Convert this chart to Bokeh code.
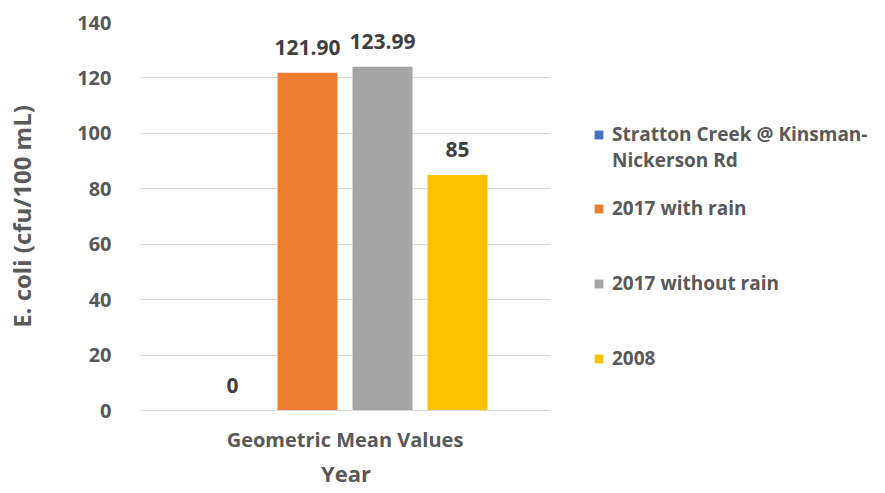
from bokeh.plotting import figure
from bokeh.models import ColumnDataSource, Legend, LegendItem, FixedTicker, Range1d, Title
from bokeh.transform import dodge
from bokeh.core.properties import value
from bokeh.embed import file_html
from bokeh.resources import INLINE

categories = ["Geometric Mean Values"]
category_pos = [0.5]
series_names = ["Stratton Creek @ Kinsman-", "2017 with rain", "2017 without rain", "2008"]
series_name_cont = "Nickerson Rd"
series_values = [0, 121.90, 123.99, 85]
value_labels = ["0", "121.90", "123.99", "85"]
series_colors = ["#4472C4", "#ED7D31", "#A5A5A5", "#FFC000"]
y_ticks = [0, 20, 40, 60, 80, 100, 120, 140]
x_title = "Year"
y_title = "E. coli (cfu/100 mL)"

FONT = "Open Sans"
GREY = "#595959"

# category band [0, 1] occupies 411 px; the rest of the frame holds the legend
FRAME_W = 730
BAND_W = 411
p = figure(x_range=Range1d(0, FRAME_W / BAND_W), y_range=Range1d(0, 140),
           frame_width=FRAME_W, frame_height=388, output_backend="svg", toolbar_location=None,
           min_border_left=139, min_border_right=0, min_border_top=22, min_border_bottom=67)
p.outline_line_color = None
p.background_fill_color = "white"
p.border_fill_color = "white"

offsets = [-0.2737, -0.0912, 0.0912, 0.2737]
bar_w = 0.146
renderers = []
for name, val, lab, col, off in zip(series_names, series_values, value_labels, series_colors, offsets):
    src = ColumnDataSource(dict(x=category_pos, val=[val], lab=[lab]))
    r = p.vbar(x=dodge("x", off), top="val", width=bar_w, source=src,
               fill_color=col, line_color=None)
    p.text(x=dodge("x", off), y="val", text="lab", source=src,
           text_align="center", text_baseline="alphabetic", y_offset=-25,
           text_font=value(FONT), text_font_style="bold", text_font_size="21px",
           text_color="#404040")
    renderers.append(r)

blank = p.vbar(x=[], top=[], width=bar_w, fill_alpha=0, line_alpha=0)

# y axis
p.yaxis.ticker = FixedTicker(ticks=y_ticks)
p.yaxis.axis_line_color = None
p.yaxis.major_tick_line_color = None
p.yaxis.minor_tick_line_color = None
p.yaxis.major_label_standoff = 22
p.yaxis.major_label_text_font = FONT
p.yaxis.major_label_text_font_style = "bold"
p.yaxis.major_label_text_font_size = "20px"
p.yaxis.major_label_text_color = GREY
p.yaxis.axis_label = y_title
p.yaxis.axis_label_text_font = FONT
p.yaxis.axis_label_text_font_style = "bold"
p.yaxis.axis_label_text_font_size = "24px"
p.yaxis.axis_label_text_color = GREY
p.yaxis.axis_label_standoff = 36

# x axis (only over the category band)
p.xaxis.ticker = FixedTicker(ticks=category_pos)
p.xaxis.major_label_overrides = {category_pos[0]: categories[0]}
p.xaxis.bounds = (0, 1)
p.xaxis.axis_line_color = "#D9D9D9"
p.xaxis.axis_line_width = 1
p.xaxis.major_tick_line_color = None
p.xaxis.minor_tick_line_color = None
p.xaxis.major_label_standoff = 9
p.xaxis.major_label_text_font = FONT
p.xaxis.major_label_text_font_style = "bold"
p.xaxis.major_label_text_font_size = "20px"
p.xaxis.major_label_text_color = GREY

# x-axis title, centred under the category band
year_title = Title(text=x_title, align="left", offset=BAND_W / 2 - 24, standoff=0,
                   text_font=FONT, text_font_style="bold", text_font_size="22px",
                   text_color=GREY)
p.add_layout(year_title, "below")

p.xgrid.grid_line_color = None
ygrid = p.ygrid[0]
if "cross_bounds" in ygrid.properties():
    ygrid.ticker = FixedTicker(ticks=y_ticks)
    ygrid.cross_bounds = (0, 1)
    ygrid.grid_line_color = "#D9D9D9"
    ygrid.grid_line_width = 1
else:
    ygrid.grid_line_color = None
    p.segment(x0=0, x1=1, y0=y_ticks, y1=y_ticks, line_color="#D9D9D9", line_width=1,
              level="underlay")

legend_style = dict(margin=0, padding=0, border_line_color=None, background_fill_alpha=0,
                    glyph_width=11, glyph_height=11, label_standoff=8,
                    label_text_font=FONT, label_text_font_style="bold",
                    label_text_font_size="19px", label_text_color=GREY,
                    label_height=22)
legend_a = Legend(items=[LegendItem(label=series_names[0], renderers=[renderers[0]]),
                         LegendItem(label=series_name_cont, renderers=[blank])],
                  location=(454, 237), spacing=0, **legend_style)
legend_b = Legend(items=[LegendItem(label=n, renderers=[r]) for n, r in zip(series_names[1:], renderers[1:])],
                  location=(454, 39), spacing=49, **legend_style)
p.add_layout(legend_a)
p.add_layout(legend_b)

open("out.html", "w").write(file_html(p, INLINE))
